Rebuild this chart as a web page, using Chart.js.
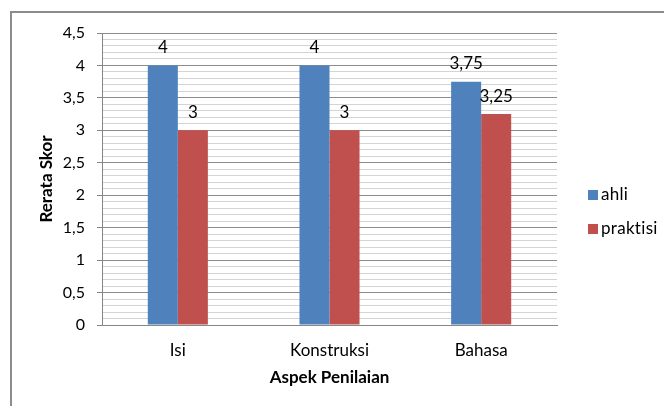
<!DOCTYPE html>
<html><head><meta charset="utf-8">
<script src="https://cdn.jsdelivr.net/npm/chart.js@4"></script>
<style>html,body{margin:0;padding:0;background:#fff}#wrap{width:664px;height:406px}</style>
</head><body><div id="wrap"><canvas id="c" width="664" height="406"></canvas></div>
<script>
const categories = ['Isi', 'Konstruksi', 'Bahasa'];
const seriesNames = ['ahli', 'praktisi'];
const ahli = [4, 4, 3.75];
const praktisi = [3, 3, 3.25];
const seriesColors = ['#4F81BD', '#C0504D'];
const yMin = 0, yMax = 4.5, yMajor = 0.5, yMinor = 0.1;
const yTitle = 'Rerata Skor';
const xTitle = 'Aspek Penilaian';

const FONT = 'Lato, "Open Sans", sans-serif';
const fmt = v => String(Math.round(v * 100) / 100).replace('.', ',');
const isMajor = v => Math.abs(v / yMajor - Math.round(v / yMajor)) < 1e-6;

const framePlugin = {
  id: 'frame',
  beforeDraw(chart) {
    const ctx = chart.ctx;
    ctx.save();
    ctx.fillStyle = '#fff';
    ctx.fillRect(0, 0, chart.width, chart.height);
    ctx.strokeStyle = '#8c8c8c';
    ctx.lineWidth = 2;
    ctx.strokeRect(11, 12, chart.width + 20, chart.height + 20);
    ctx.restore();
  }
};

const labelPlugin = {
  id: 'vlabels',
  afterDatasetsDraw(chart) {
    const ctx = chart.ctx;
    ctx.save();
    ctx.font = '17px ' + FONT;
    ctx.fillStyle = '#000';
    ctx.textAlign = 'center';
    ctx.textBaseline = 'middle';
    chart.data.datasets.forEach((ds, i) => {
      chart.getDatasetMeta(i).data.forEach((el, j) => {
        ctx.fillText(fmt(ds.data[j]), el.x, el.y - 18);
      });
    });
    ctx.restore();
  }
};

const legendPlugin = {
  id: 'customLegend',
  afterDraw(chart) {
    const ctx = chart.ctx;
    ctx.save();
    ctx.font = '17px ' + FONT;
    try { ctx.letterSpacing = '0.3px'; } catch (e) {}
    ctx.textBaseline = 'middle';
    ctx.textAlign = 'left';
    chart.data.datasets.forEach((ds, i) => {
      const y = 195 + i * 34;
      ctx.fillStyle = ds.backgroundColor;
      ctx.fillRect(588, y - 5, 10, 10);
      ctx.fillStyle = '#000';
      ctx.fillText(ds.label, 601, y);
    });
    ctx.restore();
  }
};

new Chart(document.getElementById('c'), {
  type: 'bar',
  data: {
    labels: categories,
    datasets: [
      { label: seriesNames[0], data: ahli, backgroundColor: seriesColors[0] },
      { label: seriesNames[1], data: praktisi, backgroundColor: seriesColors[1] }
    ]
  },
  options: {
    responsive: false,
    devicePixelRatio: 1,
    animation: false,
    layout: { padding: { left: 0, right: 107, top: 33, bottom: 0 } },
    datasets: { bar: { categoryPercentage: 0.396, barPercentage: 1, borderWidth: 0 } },
    plugins: { legend: { display: false }, tooltip: { enabled: false } },
    scales: {
      x: {
        afterFit(s) { s.height = 81; },
        grid: { display: false, drawTicks: false },
        border: { display: true, color: '#868686', width: 1 },
        ticks: { color: '#000', font: { family: FONT, size: 17 }, padding: 15 },
        title: { display: true, text: xTitle, color: '#000', font: { family: FONT, size: 17, weight: 'bold' }, padding: { top: 18, bottom: 18 } }
      },
      y: {
        min: yMin, max: yMax,
        afterFit(s) { s.width = 102; },
        ticks: {
          stepSize: yMinor, maxTicksLimit: 1000, autoSkip: false,
          color: '#000', font: { family: FONT, size: 16 }, padding: 12,
          callback: v => isMajor(v) ? fmt(v) : ''
        },
        grid: {
          tickLength: 5,
          color: c => isMajor(c.tick.value) ? '#8c8c8c' : '#d4d4d4',
          tickColor: c => isMajor(c.tick.value) ? '#868686' : 'rgba(0,0,0,0)',
          lineWidth: 1
        },
        border: { display: true, color: '#868686', width: 1 },
        title: { display: true, text: yTitle, color: '#000', font: { family: FONT, size: 17, weight: 'bold' }, padding: { top: 36, bottom: 0 } }
      }
    }
  },
  plugins: [framePlugin, labelPlugin, legendPlugin]
});
</script>
</body></html>
